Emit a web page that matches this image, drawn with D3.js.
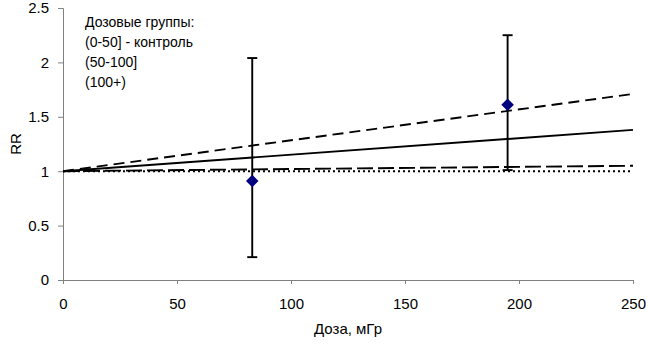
<!DOCTYPE html>
<html>
<head>
<meta charset="utf-8">
<script src="https://cdn.jsdelivr.net/npm/d3@7"></script>
<style>
  body { margin: 0; background: #fff; }
  text { font-family: "Liberation Sans", Arial, sans-serif; }
</style>
</head>
<body>
<div id="chart"></div>
<script>
// данные
const doses = [0, 250];
const centralFit = [1, 1.38];   // сплошная
const upperFit = [1, 1.71];     // пунктир сверху
const lowerFit = [1, 1.05];     // пунктир снизу
const baseline = [1, 1];        // точки
const groupDose = [83, 195];
const groupRR = [0.91, 1.61];
const groupLow = [0.21, 1.01];
const groupHigh = [2.04, 2.25];
const xTicks = [0, 50, 100, 150, 200, 250];
const yTicks = [0, 0.5, 1, 1.5, 2, 2.5];
const legendLines = ['Дозовые группы:', '(0-50] - контроль', '(50-100]', '(100+)'];

const width = 648, height = 344;
const margin = { top: 8, right: 15, bottom: 64, left: 63 };
const w = width - margin.left - margin.right;
const h = height - margin.top - margin.bottom;

const svg = d3.select('#chart').append('svg')
  .attr('width', width)
  .attr('height', height);
const g = svg.append('g').attr('transform', `translate(${margin.left},${margin.top})`);

const x = d3.scaleLinear().domain([0, 250]).range([0, w]);
const y = d3.scaleLinear().domain([0, 2.5]).range([h, 0]);

// оси
const xAxis = g.append('g')
  .attr('transform', `translate(0,${h})`)
  .call(d3.axisBottom(x).tickValues(xTicks).tickSize(4).tickPadding(14).tickFormat(d3.format('d')));
const yAxis = g.append('g')
  .call(d3.axisLeft(y).tickValues(yTicks).tickSize(5).tickPadding(9).tickFormat(d => String(d)));
[xAxis, yAxis].forEach(a => {
  a.select('.domain').attr('stroke', '#808080');
  a.selectAll('.tick line').attr('stroke', '#808080');
  a.selectAll('text').style('font-size', '15px').attr('fill', '#000')
    .style('font-family', '"Liberation Sans", Arial, sans-serif');
});

// линии
const line = d3.line().x((d, i) => x(doses[i])).y(d => y(d));
const series = [
  { vals: baseline, dash: '2,3' },
  { vals: lowerFit, dash: '16,5' },
  { vals: upperFit, dash: '11,6' },
  { vals: centralFit, dash: null }
];
series.forEach(s => {
  g.append('path')
    .datum(s.vals)
    .attr('d', line)
    .attr('fill', 'none')
    .attr('stroke', '#000')
    .attr('stroke-width', 1.9)
    .attr('stroke-dasharray', s.dash);
});

// доверительные интервалы
groupDose.forEach((d, i) => {
  const cx = x(d);
  g.append('line')
    .attr('x1', cx).attr('x2', cx)
    .attr('y1', y(groupLow[i])).attr('y2', y(groupHigh[i]))
    .attr('stroke', '#000').attr('stroke-width', 1.9);
  [groupLow[i], groupHigh[i]].forEach(v => {
    g.append('line')
      .attr('x1', cx - 5).attr('x2', cx + 5)
      .attr('y1', y(v)).attr('y2', y(v))
      .attr('stroke', '#000').attr('stroke-width', 1.9);
  });
});

// точки
g.selectAll('.pt')
  .data(groupDose)
  .enter().append('path')
  .attr('class', 'pt')
  .attr('transform', (d, i) => `translate(${x(d)},${y(groupRR[i])})`)
  .attr('d', d3.symbol().type(d3.symbolDiamond2).size(100))
  .attr('fill', '#000080');

// легенда
legendLines.forEach((t, i) => {
  svg.append('text')
    .attr('x', 85)
    .attr('y', 27 + i * 20)
    .style('font-size', '14px')
    .text(t);
});

// подписи осей
svg.append('text')
  .attr('x', margin.left + w / 2)
  .attr('y', 334)
  .attr('text-anchor', 'middle')
  .style('font-size', '15px')
  .text('Доза, мГр');
svg.append('text')
  .attr('transform', `translate(21,${margin.top + h / 2}) rotate(-90)`)
  .attr('text-anchor', 'middle')
  .style('font-size', '15px')
  .text('RR');
</script>
</body>
</html>
